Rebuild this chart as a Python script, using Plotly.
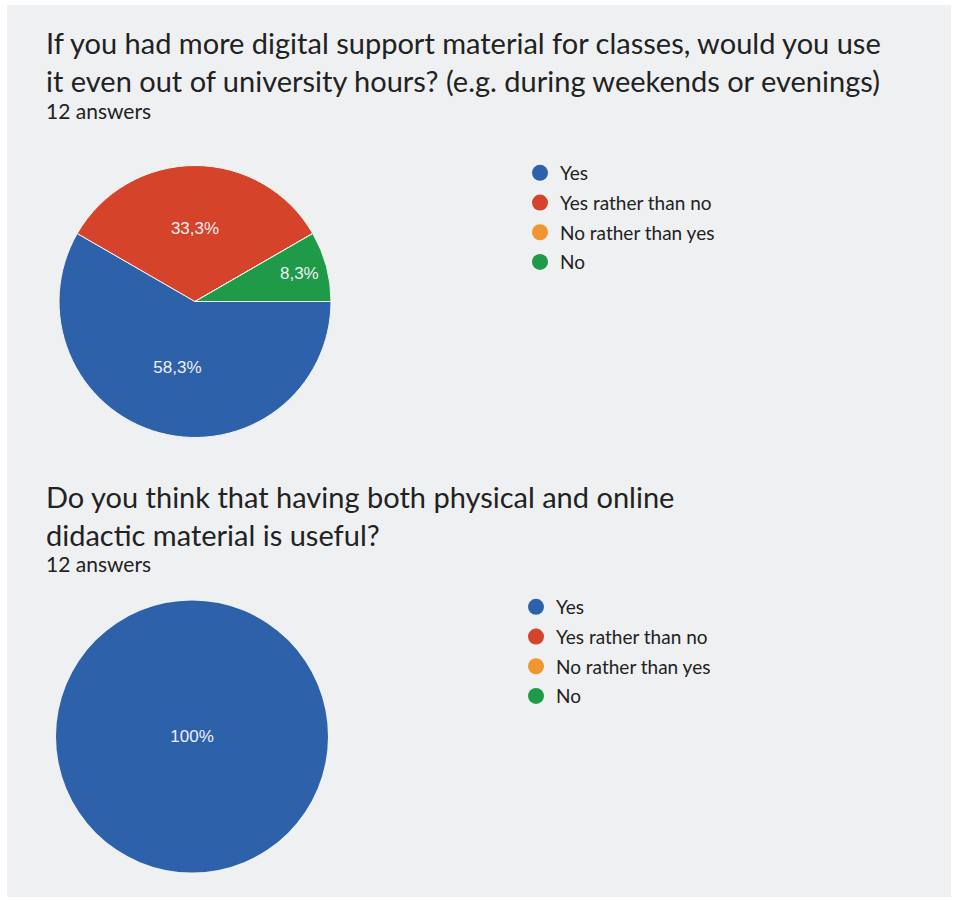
import plotly.graph_objects as go

labels = ["Yes", "Yes rather than no", "No rather than yes", "No"]
q1_values = [7, 4, 0, 1]
q2_values = [12, 0, 0, 0]
colors = ["#2d62ab", "#d4432a", "#ef962e", "#1f9a48"]
q1_title = "If you had more digital support material for classes, would you use<br>it even out of university hours? (e.g. during weekends or evenings)"
q2_title = "Do you think that having both physical and online<br>didactic material is useful?"
answers_text = "12 answers"

W, H = 956, 900
def px(x): return x / W
def py(y): return 1 - y / H

fig = go.Figure()

pie_common = dict(
    labels=labels, sort=False, direction="clockwise", rotation=90,
    texttemplate="%{percent:.1~%}", textposition="inside",
    insidetextfont=dict(family="Liberation Sans, Arial", size=17, color="#eef0f6"),
    showlegend=False, hoverinfo="label+percent",
)
fig.add_trace(go.Pie(values=q1_values, domain=dict(x=[px(59), px(331)], y=[py(438), py(165)]),
                     marker=dict(colors=colors, line=dict(color="#f4f4f4", width=1)), **pie_common))
fig.add_trace(go.Pie(values=q2_values, domain=dict(x=[px(56), px(328)], y=[py(873), py(600)]),
                     marker=dict(colors=colors, line=dict(width=0)), **pie_common))

for i, (lab, col) in enumerate(zip(labels, colors)):
    for lg in ("legend", "legend2"):
        fig.add_trace(go.Scatter(x=[None], y=[None], mode="markers", name=lab,
                                 marker=dict(color=col, size=16, symbol="circle"),
                                 legend=lg, legendgroup=f"{lg}_{i}", showlegend=True))

title_font = dict(family="Lato", size=29, color="#222222")
sub_font = dict(family="Lato", size=21, color="#222222")
annotations = [
    dict(text=q1_title, x=px(44), y=py(23), xref="paper", yref="paper", xanchor="left", yanchor="top",
         showarrow=False, align="left", font=title_font),
    dict(text=answers_text, x=px(44), y=py(96), xref="paper", yref="paper", xanchor="left", yanchor="top",
         showarrow=False, align="left", font=sub_font),
    dict(text=q2_title, x=px(44), y=py(477), xref="paper", yref="paper", xanchor="left", yanchor="top",
         showarrow=False, align="left", font=title_font),
    dict(text=answers_text, x=px(44), y=py(549), xref="paper", yref="paper", xanchor="left", yanchor="top",
         showarrow=False, align="left", font=sub_font),
]

legend_common = dict(bgcolor="rgba(0,0,0,0)", font=dict(family="Lato", size=19, color="#222222"),
                     xanchor="left", yanchor="top", itemsizing="trace", tracegroupgap=2)
fig.update_layout(
    width=W, height=H, margin=dict(l=0, r=0, t=0, b=0),
    paper_bgcolor="white", plot_bgcolor="rgba(0,0,0,0)",
    separators=",.",
    xaxis=dict(visible=False), yaxis=dict(visible=False),
    annotations=annotations,
    legend=dict(x=px(520), y=py(154), **legend_common),
    legend2=dict(x=px(516), y=py(588), **legend_common),
    shapes=[dict(type="rect", xref="paper", yref="paper", x0=px(7), x1=px(951), y0=py(897), y1=py(5),
                 fillcolor="#eff0f2", line=dict(width=0), layer="below")],
)

fig.write_html("out.html")
